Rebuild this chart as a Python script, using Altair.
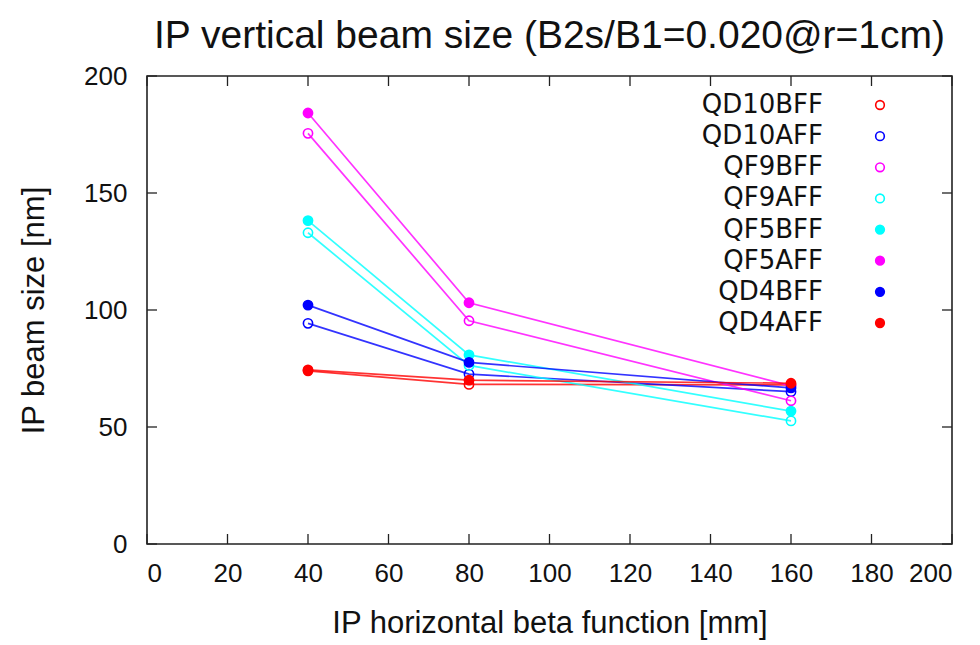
import altair as alt
import pandas as pd

# ---- data ----
x_vals = [40, 80, 160]
series = ["QD10BFF", "QD10AFF", "QF9BFF", "QF9AFF", "QF5BFF", "QF5AFF", "QD4BFF", "QD4AFF"]
colors = ["#ff0000", "#0000ff", "#ff00ff", "#00ffff", "#00ffff", "#ff00ff", "#0000ff", "#ff0000"]
filled = [False, False, False, False, True, True, True, True]

qd10bff = [74.0, 68.2, 68.0]
qd10aff = [94.3, 72.6, 65.1]
qf9bff = [175.5, 95.4, 61.2]
qf9aff = [133.0, 76.3, 52.6]
qf5bff = [138.2, 80.8, 56.8]
qf5aff = [184.2, 103.1, 67.6]
qd4bff = [102.1, 77.6, 66.7]
qd4aff = [74.4, 70.0, 68.7]
all_vals = [qd10bff, qd10aff, qf9bff, qf9aff, qf5bff, qf5aff, qd4bff, qd4aff]

x_ticks = [0, 20, 40, 60, 80, 100, 120, 140, 160, 180, 200]
y_ticks = [0, 50, 100, 150, 200]

title_text = "IP vertical beam size (B2s/B1=0.020@r=1cm)"
x_title = "IP horizontal beta function [mm]"
y_title = "IP beam size [nm]"

# ---- build tables ----
rows = []
for i, (s, vals) in enumerate(zip(series, all_vals)):
    for xv, yv in zip(x_vals, vals):
        rows.append({"series": s, "x": xv, "y": yv, "k": i})
df = pd.DataFrame(rows)
leg = pd.DataFrame({"series": series, "idx": list(range(len(series)))})
xt = pd.DataFrame({"t": x_ticks})
yt = pd.DataFrame({"t": y_ticks})

fills = [c if f else "transparent" for c, f in zip(colors, filled)]

W, H = 805, 468
FONT = "Liberation Sans"
TICK = 10

xscale = alt.Scale(domain=[0, 200], nice=False, zero=False)
yscale = alt.Scale(domain=[0, 200], nice=False, zero=False)

X = alt.X("x:Q", scale=xscale,
          axis=alt.Axis(values=x_ticks, title=x_title, ticks=False, domain=False, grid=False,
                        labelFontSize=26, labelFont=FONT, labelColor="#111", labelPadding=16,
                        titleFontSize=31, titleFont=FONT, titleFontWeight="normal",
                        titleColor="#111", titlePadding=22))
Y = alt.Y("y:Q", scale=yscale,
          axis=alt.Axis(values=y_ticks, title=y_title, ticks=False, domain=False, grid=False,
                        labelFontSize=26, labelFont=FONT, labelColor="#111", labelPadding=20,
                        titleFontSize=31, titleFont=FONT, titleFontWeight="normal",
                        titleColor="#111", titlePadding=33))

stroke_scale = alt.Scale(domain=series, range=colors)
fill_scale = alt.Scale(domain=series, range=fills)

base = alt.Chart(df)
lines = base.mark_line(strokeWidth=1.7, opacity=0.8).encode(
    x=X, y=Y,
    color=alt.Color("series:N", scale=stroke_scale, legend=None),
    order=alt.Order("x:Q"),
)
points = base.mark_point(shape="circle", size=85, strokeWidth=1.6, opacity=1).encode(
    x="x:Q", y="y:Q",
    stroke=alt.Stroke("series:N", scale=stroke_scale, legend=None),
    fill=alt.Fill("series:N", scale=fill_scale, legend=None),
    order=alt.Order("k:Q"),
)

tick_style = dict(color="#222", strokeWidth=1.3)
xb = alt.Chart(xt).mark_rule(**tick_style).encode(x="t:Q", y=alt.value(H), y2=alt.value(H - TICK))
xtop = alt.Chart(xt).mark_rule(**tick_style).encode(x="t:Q", y=alt.value(0), y2=alt.value(TICK))
yl = alt.Chart(yt).mark_rule(**tick_style).encode(y="t:Q", x=alt.value(0), x2=alt.value(TICK))
yr = alt.Chart(yt).mark_rule(**tick_style).encode(y="t:Q", x=alt.value(W), x2=alt.value(W - TICK))

main = alt.layer(lines, points, xb, xtop, yl, yr)

LY = alt.Y("idx:Q", scale=alt.Scale(domain=[0, 7], range=[29, 247], nice=False, zero=False), axis=None)
ltext = alt.Chart(leg).mark_text(align="right", baseline="middle", font="DejaVu Sans",
                                 fontSize=26, color="#111").encode(
    x=alt.value(676), y=LY, text="series:N")
lpts = alt.Chart(leg).mark_point(shape="circle", size=75, strokeWidth=1.6, opacity=1).encode(
    x=alt.value(733), y=LY,
    stroke=alt.Stroke("series:N", scale=stroke_scale, legend=None),
    fill=alt.Fill("series:N", scale=fill_scale, legend=None),
)
legend = alt.layer(ltext, lpts)

chart = alt.layer(main, legend).resolve_scale(y="independent").properties(
    width=W, height=H,
    title=alt.TitleParams(title_text, font=FONT, fontSize=39, fontWeight="normal",
                          color="#111", anchor="middle", offset=7),
    autosize=alt.AutoSizeParams(type="none"),
    padding={"left": 139, "top": 68, "right": 20, "bottom": 99},
).configure(background="white").configure_view(stroke="#222", strokeWidth=1.6)

chart.save("out.html", embed_options={"renderer": "svg", "actions": False})
